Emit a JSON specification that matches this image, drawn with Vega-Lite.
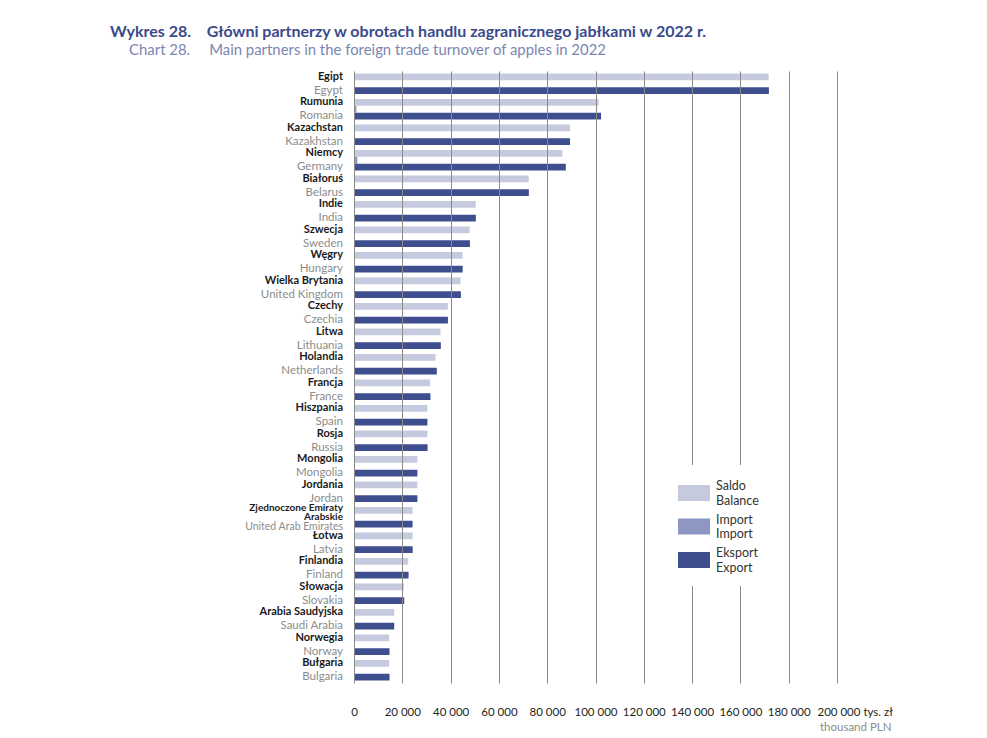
{
  "$schema": "https://vega.github.io/schema/vega-lite/v6.json",
  "width": 483,
  "height": 612,
  "autosize": {"type": "none"},
  "padding": {"left": 354, "top": 71, "right": 150, "bottom": 55},
  "background": "white",
  "config": {"view": {"stroke": null}, "font": "Lato"},
  "title": {
    "text": "Wykres 28.\u00a0\u00a0\u00a0\u00a0Główni partnerzy w obrotach handlu zagranicznego jabłkami w 2022 r.",
    "subtitle": "\u200b\u00a0\u00a0\u00a0\u00a0\u00a0Chart 28.\u00a0\u00a0\u00a0\u00a0\u00a0Main partners in the foreign trade turnover of apples in 2022",
    "anchor": "start",
    "frame": "group",
    "dx": -244,
    "offset": 13,
    "font": "Lato",
    "fontSize": 16,
    "fontWeight": "bold",
    "color": "#3b4a8b",
    "subtitleFont": "Lato",
    "subtitleFontSize": 14.9,
    "subtitleColor": "#7b86b2",
    "subtitlePadding": 3
  },
  "data": {
    "values": [
      {"kraj": "Egipt", "en": "Egypt", "Saldo": 171700, "Import": 100, "Eksport": 171800},
      {"kraj": "Rumunia", "en": "Romania", "Saldo": 101300, "Import": 1000, "Eksport": 102300},
      {"kraj": "Kazachstan", "en": "Kazakhstan", "Saldo": 89400, "Import": 50, "Eksport": 89450},
      {"kraj": "Niemcy", "en": "Germany", "Saldo": 86300, "Import": 1400, "Eksport": 87700},
      {"kraj": "Białoruś", "en": "Belarus", "Saldo": 72350, "Import": 50, "Eksport": 72400},
      {"kraj": "Indie", "en": "India", "Saldo": 50400, "Import": 50, "Eksport": 50450},
      {"kraj": "Szwecja", "en": "Sweden", "Saldo": 47900, "Import": 100, "Eksport": 48000},
      {"kraj": "Węgry", "en": "Hungary", "Saldo": 44950, "Import": 50, "Eksport": 45000},
      {"kraj": "Wielka Brytania", "en": "United Kingdom", "Saldo": 44100, "Import": 150, "Eksport": 44250},
      {"kraj": "Czechy", "en": "Czechia", "Saldo": 38850, "Import": 50, "Eksport": 38900},
      {"kraj": "Litwa", "en": "Lithuania", "Saldo": 35800, "Import": 150, "Eksport": 35950},
      {"kraj": "Holandia", "en": "Netherlands", "Saldo": 33800, "Import": 500, "Eksport": 34300},
      {"kraj": "Francja", "en": "France", "Saldo": 31500, "Import": 150, "Eksport": 31650},
      {"kraj": "Hiszpania", "en": "Spain", "Saldo": 30350, "Import": 50, "Eksport": 30400},
      {"kraj": "Rosja", "en": "Russia", "Saldo": 30350, "Import": 100, "Eksport": 30450},
      {"kraj": "Mongolia", "en": "Mongolia", "Saldo": 26250, "Import": 0, "Eksport": 26250},
      {"kraj": "Jordania", "en": "Jordan", "Saldo": 26250, "Import": 0, "Eksport": 26250},
      {"kraj": "Zjednoczone Emiraty|Arabskie", "en": "United Arab Emirates", "Saldo": 24250, "Import": 0, "Eksport": 24250},
      {"kraj": "Łotwa", "en": "Latvia", "Saldo": 24250, "Import": 50, "Eksport": 24300},
      {"kraj": "Finlandia", "en": "Finland", "Saldo": 22450, "Import": 150, "Eksport": 22600},
      {"kraj": "Słowacja", "en": "Slovakia", "Saldo": 20650, "Import": 150, "Eksport": 20800},
      {"kraj": "Arabia Saudyjska", "en": "Saudi Arabia", "Saldo": 16650, "Import": 0, "Eksport": 16650},
      {"kraj": "Norwegia", "en": "Norway", "Saldo": 14550, "Import": 150, "Eksport": 14700},
      {"kraj": "Bułgaria", "en": "Bulgaria", "Saldo": 14550, "Import": 150, "Eksport": 14700}
    ]
  },
  "layer": [
    {
      "transform": [{"fold": ["Saldo", "Import", "Eksport"], "as": ["seria", "wartosc"]}],
      "mark": {"type": "bar"},
      "encoding": {
        "y": {"field": "kraj", "type": "nominal", "sort": null, "axis": null,
              "scale": {"paddingInner": 0.2, "paddingOuter": 0.1}},
        "yOffset": {"field": "seria", "type": "nominal", "sort": ["Saldo", "Import", "Eksport"],
                    "scale": {"paddingInner": 0}},
        "x": {"field": "wartosc", "type": "quantitative",
              "scale": {"domain": [0, 200000], "nice": false},
              "axis": {
                "values": [0, 20000, 40000, 60000, 80000, 100000, 120000, 140000, 160000, 180000, 200000],
                "labelExpr": "replace(format(datum.value, ',d'), ',', ' ') + (datum.value == 200000 ? ' tys. zł' : '')",
                "labelAlign": {"condition": {"test": "datum.value == 200000", "value": "left"}, "value": "center"},
                "labelOffset": {"condition": {"test": "datum.value == 200000", "value": -20}, "value": 0},
                "labelFont": "Lato", "labelFontSize": 11.5, "labelColor": "#231f20",
                "labelPadding": 23, "labelBound": false, "labelOverlap": false, "labelFlush": false,
                "ticks": false, "domain": false,
                "grid": true, "gridColor": "#8a8a8a", "gridWidth": 1,
                "zindex": 1,
                "title": "thousand PLN",
                "titleFont": "Lato", "titleFontSize": 11.5, "titleFontWeight": "normal", "titleColor": "#8c8c8c",
                "titleAnchor": "end", "titleAlign": "right", "titleX": 537, "titleY": 44, "titleBaseline": "middle"
              }},
        "color": {"field": "seria", "type": "nominal",
                  "scale": {"domain": ["Saldo", "Import", "Eksport"], "range": ["#c6cadf", "#8e97c2", "#3f4e8e"]},
                  "legend": {
                    "orient": "none", "legendX": 312, "legendY": 394,
                    "title": null,
                    "symbolType": "M-1,-0.5H1V0.5H-1Z", "symbolSize": 1024, "symbolStrokeWidth": 0,
                    "symbolOpacity": 1,
                    "labelExpr": "datum.label == 'Saldo' ? ['Saldo', 'Balance'] : datum.label == 'Import' ? ['Import', 'Import'] : ['Eksport', 'Export']",
                    "labelFont": "Lato", "labelFontSize": 12.5, "labelColor": "#333333", "labelOffset": 6,
                    "labelBaseline": "bottom",
                    "rowPadding": 3.5,
                    "fillColor": "white", "padding": 12, "zindex": 2
                  }}
      }
    },
    {
      "transform": [{"filter": "datum.en != 'United Arab Emirates'"}],
      "mark": {"type": "text", "align": "right", "baseline": "middle", "dx": -11,
               "font": "Lato", "fontSize": 11, "fontWeight": "bold", "color": "#1a1a1a"},
      "encoding": {
        "x": {"datum": 0, "type": "quantitative"},
        "y": {"field": "kraj", "type": "nominal", "sort": null},
        "yOffset": {"datum": "Saldo", "type": "nominal"},
        "text": {"field": "kraj"}
      }
    },
    {
      "transform": [{"filter": "datum.en == 'United Arab Emirates'"}],
      "mark": {"type": "text", "align": "right", "baseline": "middle", "dx": -11, "dy": -2.5,
               "font": "Lato", "fontSize": 10, "fontWeight": "bold", "color": "#1a1a1a",
               "lineBreak": "|", "lineHeight": 9.5},
      "encoding": {
        "x": {"datum": 0, "type": "quantitative"},
        "y": {"field": "kraj", "type": "nominal", "sort": null},
        "yOffset": {"datum": "Saldo", "type": "nominal"},
        "text": {"field": "kraj"}
      }
    },
    {
      "transform": [{"filter": "datum.en != 'United Arab Emirates'"}],
      "mark": {"type": "text", "align": "right", "baseline": "middle", "dx": -11,
               "font": "Lato", "fontSize": 11.5, "color": "#8c8c8c"},
      "encoding": {
        "x": {"datum": 0, "type": "quantitative"},
        "y": {"field": "kraj", "type": "nominal", "sort": null},
        "yOffset": {"datum": "Eksport", "type": "nominal"},
        "text": {"field": "en"}
      }
    },
    {
      "transform": [{"filter": "datum.en == 'United Arab Emirates'"}],
      "mark": {"type": "text", "align": "right", "baseline": "middle", "dx": -11, "dy": 3,
               "font": "Lato", "fontSize": 10.5, "color": "#8c8c8c"},
      "encoding": {
        "x": {"datum": 0, "type": "quantitative"},
        "y": {"field": "kraj", "type": "nominal", "sort": null},
        "yOffset": {"datum": "Eksport", "type": "nominal"},
        "text": {"field": "en"}
      }
    }
  ]
}
